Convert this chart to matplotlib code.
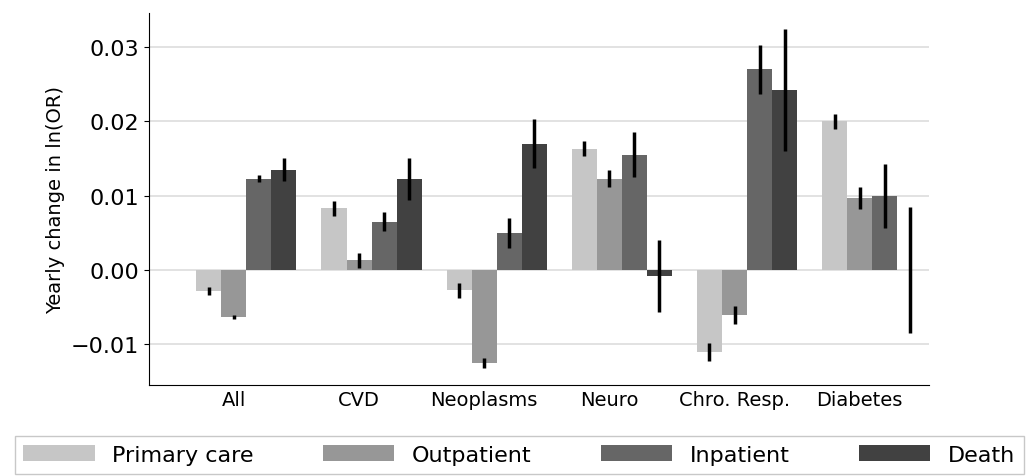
import matplotlib.pyplot as plt
import numpy as np

categories = ["All", "CVD", "Neoplasms", "Neuro", "Chro. Resp.", "Diabetes"]
series = ["Primary care", "Outpatient", "Inpatient", "Death"]
values = [
    [-0.0028, 0.0083, -0.0027, 0.0163, -0.0110, 0.0200],
    [-0.0063, 0.0013, -0.0125, 0.0123, -0.0060, 0.0097],
    [0.0123, 0.0065, 0.0050, 0.0155, 0.0270, 0.0100],
    [0.0135, 0.0122, 0.0170, -0.0008, 0.0242, 0.0000],
]
errors = [
    [0.0005, 0.0010, 0.0010, 0.0010, 0.0012, 0.0010],
    [0.0003, 0.0010, 0.0007, 0.0011, 0.0012, 0.0015],
    [0.0005, 0.0013, 0.0020, 0.0030, 0.0033, 0.0043],
    [0.0015, 0.0028, 0.0033, 0.0048, 0.0082, 0.0085],
]
colors = ["#c6c6c6", "#979797", "#666666", "#414141"]

fig = plt.figure(figsize=(10.26, 4.77), dpi=100)
ax = fig.add_axes([0.145, 0.19, 0.76, 0.78])
x = np.arange(len(categories))
w = 0.2
for i, (name, v, e, c) in enumerate(zip(series, values, errors, colors)):
    ax.bar(x + (i - 1.5) * w, v, w, yerr=e, color=c, label=name,
           error_kw=dict(ecolor="black", elinewidth=2.5, capsize=0), zorder=2)

ax.set_xticks(x - 0.1)
ax.set_xticklabels(categories, fontsize=14)
ax.set_ylim(-0.0155, 0.0345)
ax.set_xlim(-0.78, 5.45)
ax.set_yticks([-0.01, 0.0, 0.01, 0.02, 0.03])
ax.set_yticklabels(["\u22120.01", "0.00", "0.01", "0.02", "0.03"], fontsize=16)
ax.set_ylabel("Yearly change in ln(OR)", fontsize=14)
ax.yaxis.grid(True, color="#dddddd", lw=1.2, zorder=0)
ax.set_axisbelow(True)
for s in ["top", "right"]:
    ax.spines[s].set_visible(False)
ax.tick_params(axis="x", length=0)

fig.legend(loc="lower left", bbox_to_anchor=(0.012, 0.0, 0.988, 0.095), mode="expand",
           ncol=4, fontsize=16, frameon=True, fancybox=False, edgecolor="#bbbbbb",
           handlelength=3.2, borderaxespad=0.1)
fig.savefig("out.png", dpi=100)
